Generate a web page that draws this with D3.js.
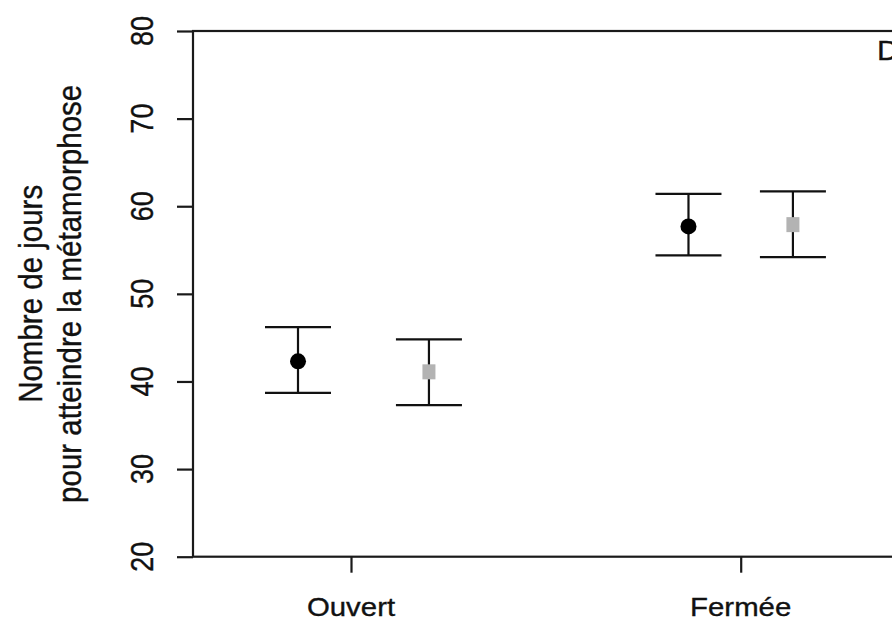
<!DOCTYPE html>
<html>
<head>
<meta charset="utf-8">
<script src="https://cdn.jsdelivr.net/npm/d3@7"></script>
<style>
  body { margin: 0; background: #fff; }
  text { font-family: "Liberation Sans", Arial, sans-serif; fill: #111; stroke: #111; stroke-width: 0.35px; }
</style>
</head>
<body>
<script>
// data
var groups = ["Ouvert", "Fermée"];
var groupPos = [1, 2];
// black dots
var blackX = [0.864, 1.866];
var blackMean = [42.3, 57.7];
var blackLow = [38.7, 54.4];
var blackHigh = [46.2, 61.4];
// grey squares
var greyX = [1.2, 2.134];
var greyMean = [41.1, 57.9];
var greyLow = [37.3, 54.2];
var greyHigh = [44.8, 61.7];
var yTicks = [20, 30, 40, 50, 60, 70, 80];

var width = 892, height = 625;
var sx = 1.13; // picture is a bit wider than tall

var svg = d3.select("body").append("svg")
    .attr("width", width)
    .attr("height", height);

var x = d3.scaleLinear().domain([1, 2]).range([351, 740.7]);
var y = d3.scaleLinear().domain([20, 80]).range([556.7, 31]);

// plot box (right side runs off the picture)
svg.append("rect")
    .attr("x", 193).attr("y", y(80))
    .attr("width", 720).attr("height", y(20) - y(80))
    .attr("fill", "none").attr("stroke", "#1a1a1a").attr("stroke-width", 2.2);

// y axis
var yAxis = svg.append("g")
    .attr("transform", "translate(193,0)")
    .call(d3.axisLeft(y).tickValues(yTicks).tickSize(16).tickFormat(""));
yAxis.select(".domain").remove();
yAxis.selectAll("line").attr("stroke", "#1a1a1a").attr("stroke-width", 2.2);

svg.selectAll(".ylab")
    .data(yTicks)
    .enter().append("text")
    .attr("class", "ylab")
    .attr("transform", function (d) { return "translate(153," + y(d) + ") scale(" + sx + ",1) rotate(-90)"; })
    .attr("text-anchor", "middle")
    .style("font-size", "27px")
    .text(function (d) { return d; });

// x axis
var xAxis = svg.append("g")
    .attr("transform", "translate(0," + y(20) + ")")
    .call(d3.axisBottom(x).tickValues(groupPos).tickSize(16).tickFormat(""));
xAxis.select(".domain").remove();
xAxis.selectAll("line").attr("stroke", "#1a1a1a").attr("stroke-width", 2.2);

svg.selectAll(".xlab")
    .data(groups)
    .enter().append("text")
    .attr("class", "xlab")
    .attr("transform", function (d, i) { return "translate(" + x(groupPos[i]) + ",616) scale(" + sx + ",1)"; })
    .attr("text-anchor", "middle")
    .style("font-size", "26px")
    .text(function (d) { return d; });

// axis title, two lines
var titleLines = ["Nombre de jours", "pour atteindre la métamorphose"];
svg.selectAll(".ytitle")
    .data(titleLines)
    .enter().append("text")
    .attr("class", "ytitle")
    .attr("transform", function (d, i) { return "translate(" + (42 + i * 39) + "," + y(50) + ") scale(" + sx + ",1) rotate(-90)"; })
    .attr("text-anchor", "middle")
    .style("font-size", "29.5px")
    .text(function (d) { return d; });

// panel letter
svg.append("text")
    .attr("transform", "translate(877,60) scale(" + sx + ",1)")
    .style("font-size", "27px")
    .text("D");

// error bars
function drawBars(xs, lo, hi, cls) {
    var g = svg.append("g").attr("class", cls);
    var cap = 33;
    xs.forEach(function (xv, i) {
        g.append("line")
            .attr("x1", x(xv)).attr("x2", x(xv))
            .attr("y1", y(lo[i])).attr("y2", y(hi[i]));
        g.append("line")
            .attr("x1", x(xv) - cap).attr("x2", x(xv) + cap)
            .attr("y1", y(lo[i])).attr("y2", y(lo[i]));
        g.append("line")
            .attr("x1", x(xv) - cap).attr("x2", x(xv) + cap)
            .attr("y1", y(hi[i])).attr("y2", y(hi[i]));
    });
    g.selectAll("line").attr("stroke", "#111").attr("stroke-width", 2.2);
}
drawBars(blackX, blackLow, blackHigh, "blackBars");
drawBars(greyX, greyLow, greyHigh, "greyBars");

svg.selectAll(".dot")
    .data(blackMean)
    .enter().append("circle")
    .attr("class", "dot")
    .attr("cx", function (d, i) { return x(blackX[i]); })
    .attr("cy", function (d) { return y(d); })
    .attr("r", 8)
    .attr("fill", "#000");

svg.selectAll(".sq")
    .data(greyMean)
    .enter().append("rect")
    .attr("class", "sq")
    .attr("x", function (d, i) { return x(greyX[i]) - 6.5; })
    .attr("y", function (d) { return y(d) - 7.5; })
    .attr("width", 13)
    .attr("height", 15)
    .attr("fill", "#b3b3b3");
</script>
</body>
</html>
